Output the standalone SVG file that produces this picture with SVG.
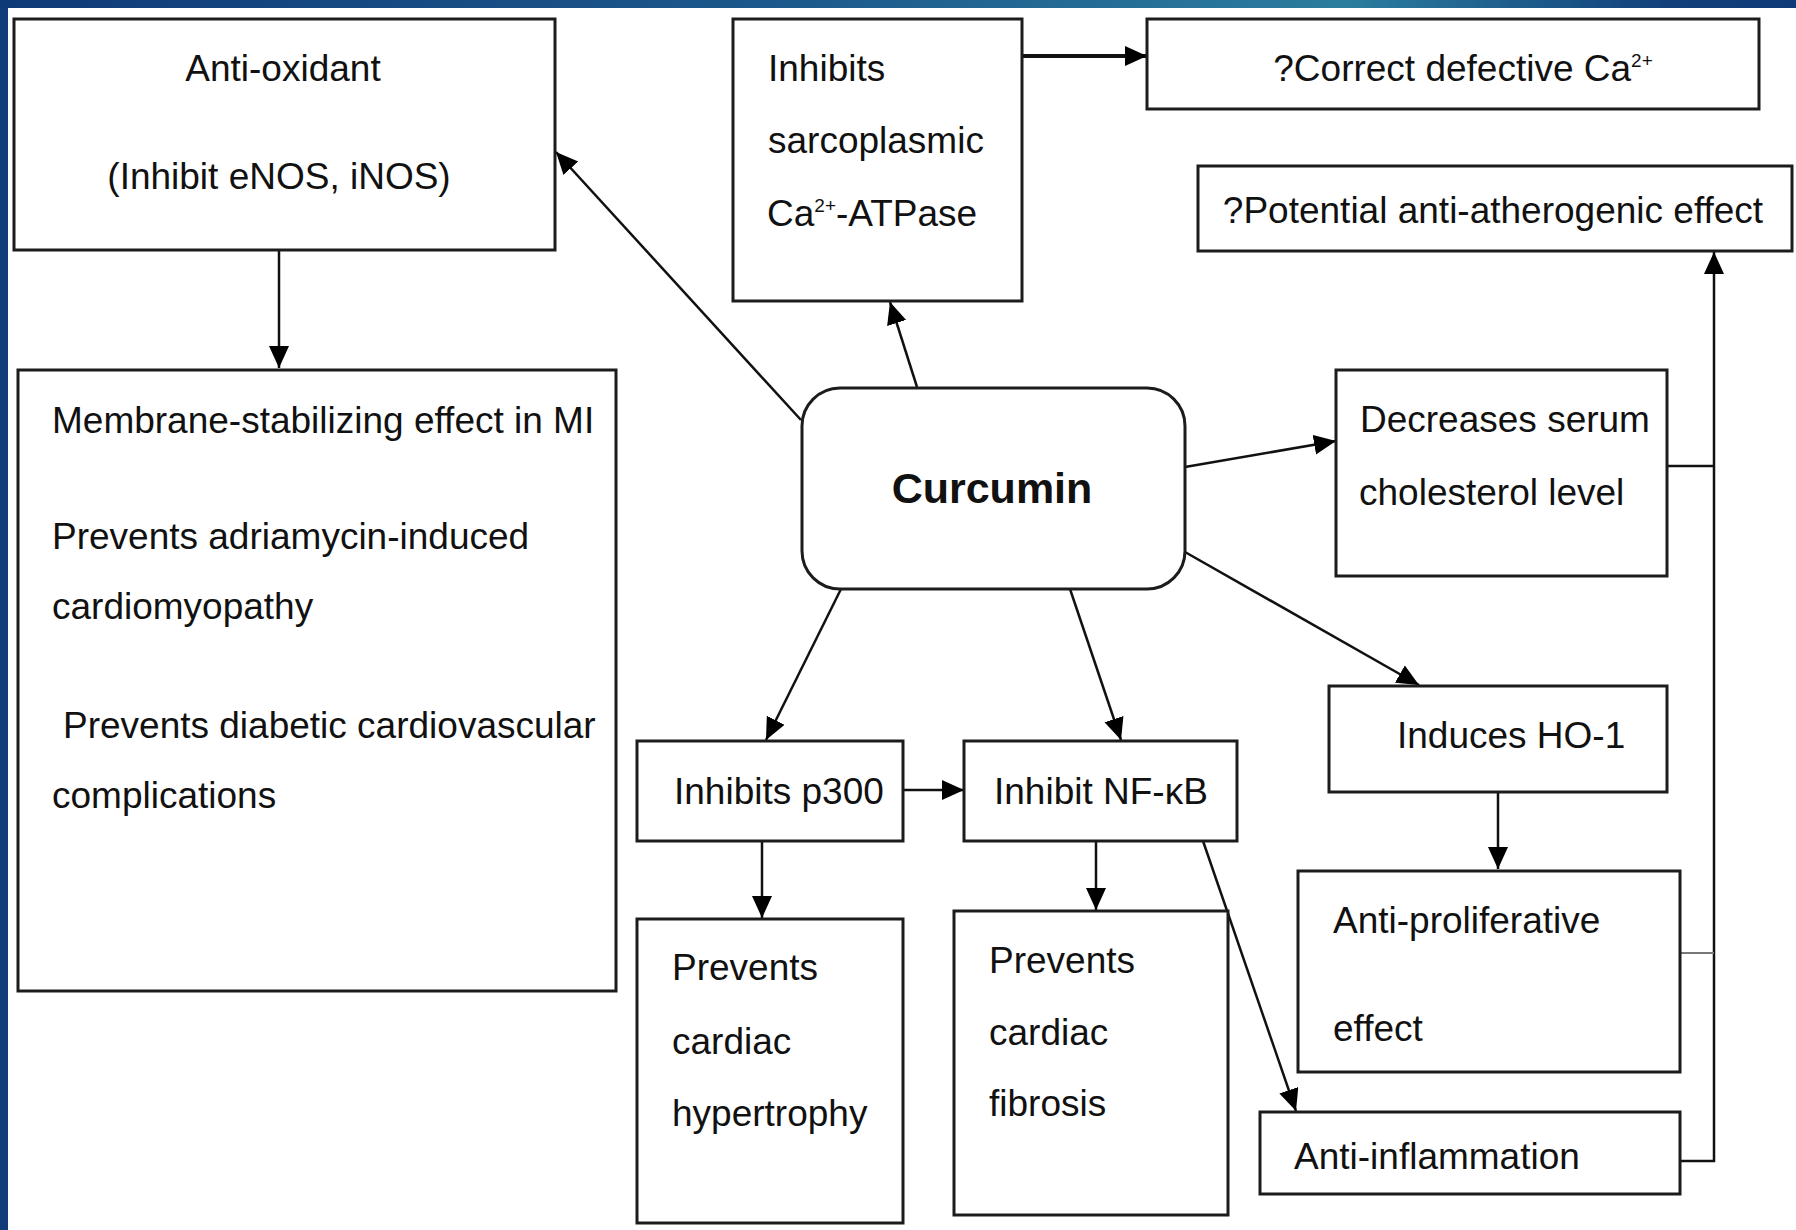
<svg xmlns="http://www.w3.org/2000/svg" width="1796" height="1230" viewBox="0 0 1796 1230">
<defs>
<linearGradient id="topbar" x1="0" y1="0" x2="1" y2="0">
<stop offset="0" stop-color="#0f3a78"/>
<stop offset="0.45" stop-color="#1d5a8c"/>
<stop offset="0.75" stop-color="#2b7d9e"/>
<stop offset="0.93" stop-color="#123f7a"/>
<stop offset="1" stop-color="#0f3a78"/>
</linearGradient>
<marker id="arr" markerUnits="userSpaceOnUse" markerWidth="24" markerHeight="22" refX="22" refY="10" orient="auto">
<path d="M0,0 L22,10 L0,20 z" fill="#000"/>
</marker>
<style>
.box{fill:#fff;stroke:#1c1c1c;stroke-width:3}
.t{font-family:"Liberation Sans",Arial,sans-serif;font-size:37px;fill:#111}
.c{text-anchor:middle}
.b{font-weight:bold;font-size:43px}
.sup{font-size:19px}
.ln{fill:none;stroke:#111;stroke-width:2.5}
.ar{marker-end:url(#arr)}
.thin{fill:none;stroke:#777;stroke-width:2}
</style>
</defs>
<rect x="0" y="0" width="1796" height="1230" fill="#fff"/>
<rect x="0" y="0" width="8" height="1230" fill="#0f3d7a"/>
<rect x="0" y="0" width="1796" height="8" fill="url(#topbar)"/>

<g id="connectors">
<path class="ln ar" d="M279,250 L279,368"/>
<path class="ln ar" d="M801,420 L556,152"/>
<path class="ln ar" d="M917,387 L890,302"/>
<path class="ln ar" style="stroke-width:4" d="M1023,56 L1147,56"/>
<path class="ln ar" d="M1185,467 L1336,441"/>
<path class="ln ar" d="M1185,552 L1419,685"/>
<path class="ln ar" d="M841,589 L766,740"/>
<path class="ln ar" d="M1070,589 L1121,740"/>
<path class="ln ar" d="M903,790 L964,790"/>
<path class="ln ar" d="M762,842 L762,918"/>
<path class="ln ar" d="M1096,841 L1096,910"/>
<path class="ln ar" d="M1203,841 L1296,1111"/>
<path class="ln ar" d="M1498,793 L1498,869"/>
<path class="ln ar" d="M1681,1161 H1714 V252"/>
<path class="ln" d="M1668,466 H1714"/>
<path class="thin" d="M1672,953 H1714"/>
</g>

<g id="anti-oxidant">
<rect class="box" x="14" y="19" width="541" height="231"/>
<text class="t c" x="283" y="81">Anti-oxidant</text>
<text class="t c" x="279" y="189">(Inhibit eNOS, iNOS)</text>
</g>

<g id="membrane">
<rect class="box" x="18" y="370" width="598" height="621"/>
<text class="t" x="52" y="433">Membrane-stabilizing effect in MI</text>
<text class="t" x="52" y="549">Prevents adriamycin-induced</text>
<text class="t" x="52" y="619">cardiomyopathy</text>
<text class="t" x="63" y="738">Prevents diabetic cardiovascular</text>
<text class="t" x="52" y="808">complications</text>
</g>

<g id="sarcoplasmic">
<rect class="box" x="733" y="19" width="289" height="282"/>
<text class="t" x="768" y="81">Inhibits</text>
<text class="t" x="768" y="153">sarcoplasmic</text>
<text class="t" x="767" y="226">Ca<tspan class="sup" dy="-14">2+</tspan><tspan dy="14">-ATPase</tspan></text>
</g>

<g id="correct-ca">
<rect class="box" x="1147" y="19" width="612" height="90"/>
<text class="t c" x="1463" y="81">?Correct defective Ca<tspan class="sup" dy="-14">2+</tspan></text>
</g>

<g id="anti-atherogenic">
<rect class="box" x="1198" y="166" width="594" height="85"/>
<text class="t c" x="1493" y="223">?Potential anti-atherogenic effect</text>
</g>

<g id="curcumin">
<rect class="box" x="802" y="388" width="383" height="201" rx="38" ry="38"/>
<text class="t c b" x="992" y="503">Curcumin</text>
</g>

<g id="cholesterol">
<rect class="box" x="1336" y="370" width="331" height="206"/>
<text class="t" x="1360" y="432">Decreases serum</text>
<text class="t" x="1359" y="505">cholesterol level</text>
</g>

<g id="ho1">
<rect class="box" x="1329" y="686" width="338" height="106"/>
<text class="t" x="1397" y="748">Induces HO-1</text>
</g>

<g id="anti-proliferative">
<rect class="box" x="1298" y="871" width="382" height="201"/>
<text class="t" x="1333" y="933">Anti-proliferative</text>
<text class="t" x="1333" y="1041">effect</text>
</g>

<g id="anti-inflammation">
<rect class="box" x="1260" y="1112" width="420" height="82"/>
<text class="t" x="1294" y="1169">Anti-inflammation</text>
</g>

<g id="nfkb">
<rect class="box" x="964" y="741" width="273" height="100"/>
<text class="t" x="994" y="804">Inhibit NF-κB</text>
</g>

<g id="p300">
<rect class="box" x="637" y="741" width="266" height="100"/>
<text class="t" x="674" y="804">Inhibits p300</text>
</g>

<g id="hypertrophy">
<rect class="box" x="637" y="919" width="266" height="304"/>
<text class="t" x="672" y="980">Prevents</text>
<text class="t" x="672" y="1054">cardiac</text>
<text class="t" x="672" y="1126">hypertrophy</text>
</g>

<g id="fibrosis">
<rect class="box" x="954" y="911" width="274" height="304"/>
<text class="t" x="989" y="973">Prevents</text>
<text class="t" x="989" y="1045">cardiac</text>
<text class="t" x="989" y="1116">fibrosis</text>
</g>
</svg>
